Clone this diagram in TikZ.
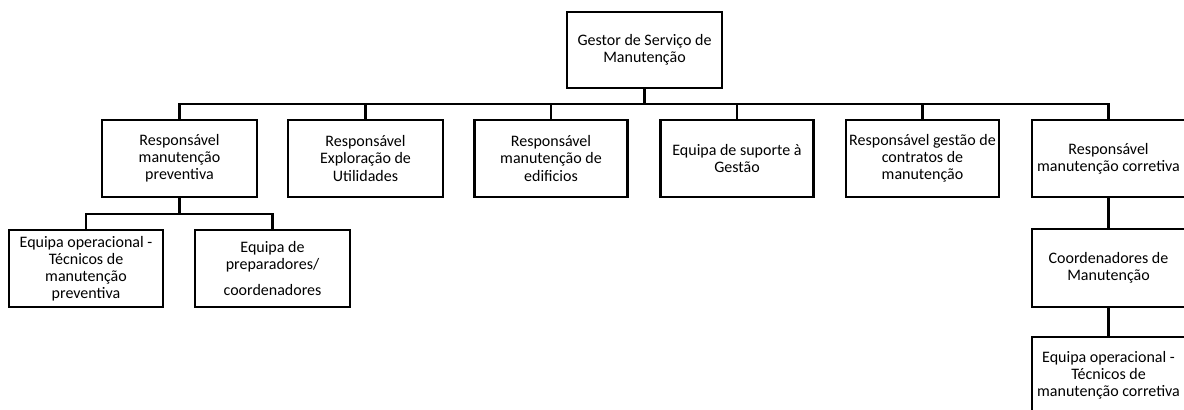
\documentclass[tikz,border=0pt]{standalone}
\usepackage{fontspec}
\setmainfont{Carlito}
\begin{document}
\begin{tikzpicture}[x=0.75pt,y=-0.75pt,
  box/.style={draw=black,line width=1.9pt,rectangle,align=center,inner sep=0pt,
    minimum width={#1*0.75pt},font=\fontsize{12}{12.8}\selectfont},
  box/.default=154,
  ht/.style={minimum height={#1*0.75pt}},
  conn/.style={line width=1.7pt,line cap=rect,line join=miter}]
\useasboundingbox (0,0) rectangle (1184,410);
\clip (0,0) rectangle (1184,410);
\node[box=155,ht=76] (top) at (644.5,50) {Gestor de Serviço de\\Manutenção};
\node[box=155,ht=77] (r1) at (179.5,158.5) {Responsável\\manutenção\\preventiva};
\node[box=155,ht=77] (r2) at (365.5,158.5) {Responsável\\Exploração de\\Utilidades};
\node[box=153,ht=77] (r3) at (551,158.5) {Responsável\\manutenção de\\edificios};
\node[box=153,ht=77] (r4) at (737,158.5) {Equipa de suporte à\\Gestão};
\node[box=153,ht=77] (r5) at (922.5,158.5) {Responsável gestão de\\contratos de\\manutenção};
\node[box=153,ht=77] (r6) at (1108.5,158.5) {Responsável\\manutenção corretiva};
\node[box=154,ht=77] (a) at (86,268.5) {Equipa operacional -\\Técnicos de\\manutenção\\preventiva};
\node[box=155,ht=77] (b) at (272.5,268.5) {Equipa de\\preparadores/\\[6pt]coordenadores};
\node[box=153,ht=78] (c) at (1108.5,268) {Coordenadores de\\Manutenção};
\node[box=153,ht=76] (e) at (1108.5,375) {Equipa operacional -\\Técnicos de\\manutenção corretiva};
\coordinate (bus) at (0,104);
\coordinate (sub) at (0,214);
\draw[conn] (top.south) -- (top.south |- bus);
\draw[conn] (r1.north) -- (r1.north |- bus) -- (r6.north |- bus) -- (r6.north);
\draw[conn] (r2.north) -- (r2.north |- bus);
\draw[conn] (r3.north) -- (r3.north |- bus);
\draw[conn] (r4.north) -- (r4.north |- bus);
\draw[conn] (r5.north) -- (r5.north |- bus);
\draw[conn] (r1.south) -- (r1.south |- sub);
\draw[conn] (a.north) -- (a.north |- sub) -- (b.north |- sub) -- (b.north);
\draw[conn] (r6.south) -- (c.north);
\draw[conn] (c.south) -- (e.north);
\end{tikzpicture}
\end{document}
